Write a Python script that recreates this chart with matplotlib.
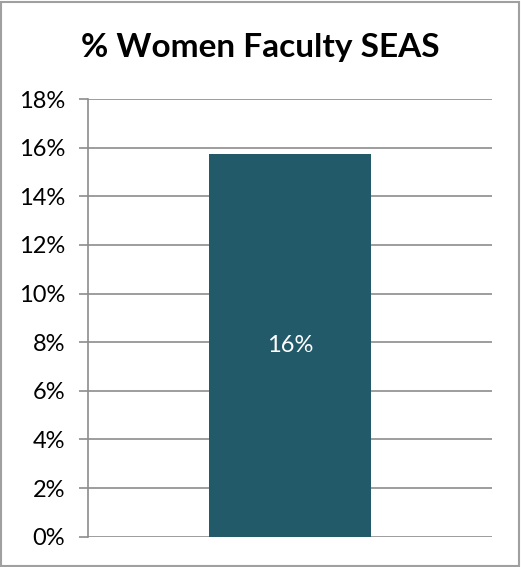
import matplotlib
matplotlib.use("Agg")
import matplotlib.pyplot as plt
from matplotlib.patches import Rectangle
from matplotlib.ticker import FuncFormatter, MultipleLocator

plt.rcParams['font.family'] = ['Lato', 'DejaVu Sans']

categories = ["SEAS"]
values = [15.75]
data_labels = ["16%"]
title = "% Women Faculty SEAS"
ymax = 18
ystep = 2

W, H = 521, 567
fig = plt.figure(figsize=(W / 100, H / 100), dpi=100)
ax = fig.add_axes([88 / W, (H - 536.7) / H, (492 - 88) / W, (536.7 - 99) / H])

bar_color = "#235A69"
grid_color = "#8C8C8C"

bars = ax.bar(categories, values, width=0.4, color=bar_color, zorder=3)
ax.set_xlim(-0.5, 0.5)
ax.set_ylim(0, ymax)
ax.yaxis.set_major_locator(MultipleLocator(ystep))
ax.yaxis.set_major_formatter(FuncFormatter(lambda v, p: f"{v:.0f}%"))
ax.grid(axis="y", color=grid_color, linewidth=1.2, zorder=0)
ax.set_axisbelow(True)
for s in ["top", "right", "bottom"]:
    ax.spines[s].set_visible(False)
ax.spines["left"].set_color(grid_color)
ax.spines["left"].set_linewidth(1.2)
ax.tick_params(axis="y", direction="out", length=6.5, width=1.2, color=grid_color,
               labelsize=17, pad=10, labelcolor="black")
ax.tick_params(axis="x", length=0, labelbottom=False)

for rect, lab in zip(bars, data_labels):
    ax.text(rect.get_x() + rect.get_width() / 2, rect.get_height() / 2, lab,
            ha="center", va="center", color="white", fontsize=17, zorder=4)

fig.text(0.5, (H - 48) / H, title, ha="center", va="center",
         fontsize=24, fontweight="bold", color="black")

fig.patches.append(Rectangle((1 / W, 1 / H), (W - 3) / W, (H - 3) / H,
                             transform=fig.transFigure, fill=False,
                             edgecolor="#A0A0A0", linewidth=1.5))

fig.savefig("out.png", dpi=100)
